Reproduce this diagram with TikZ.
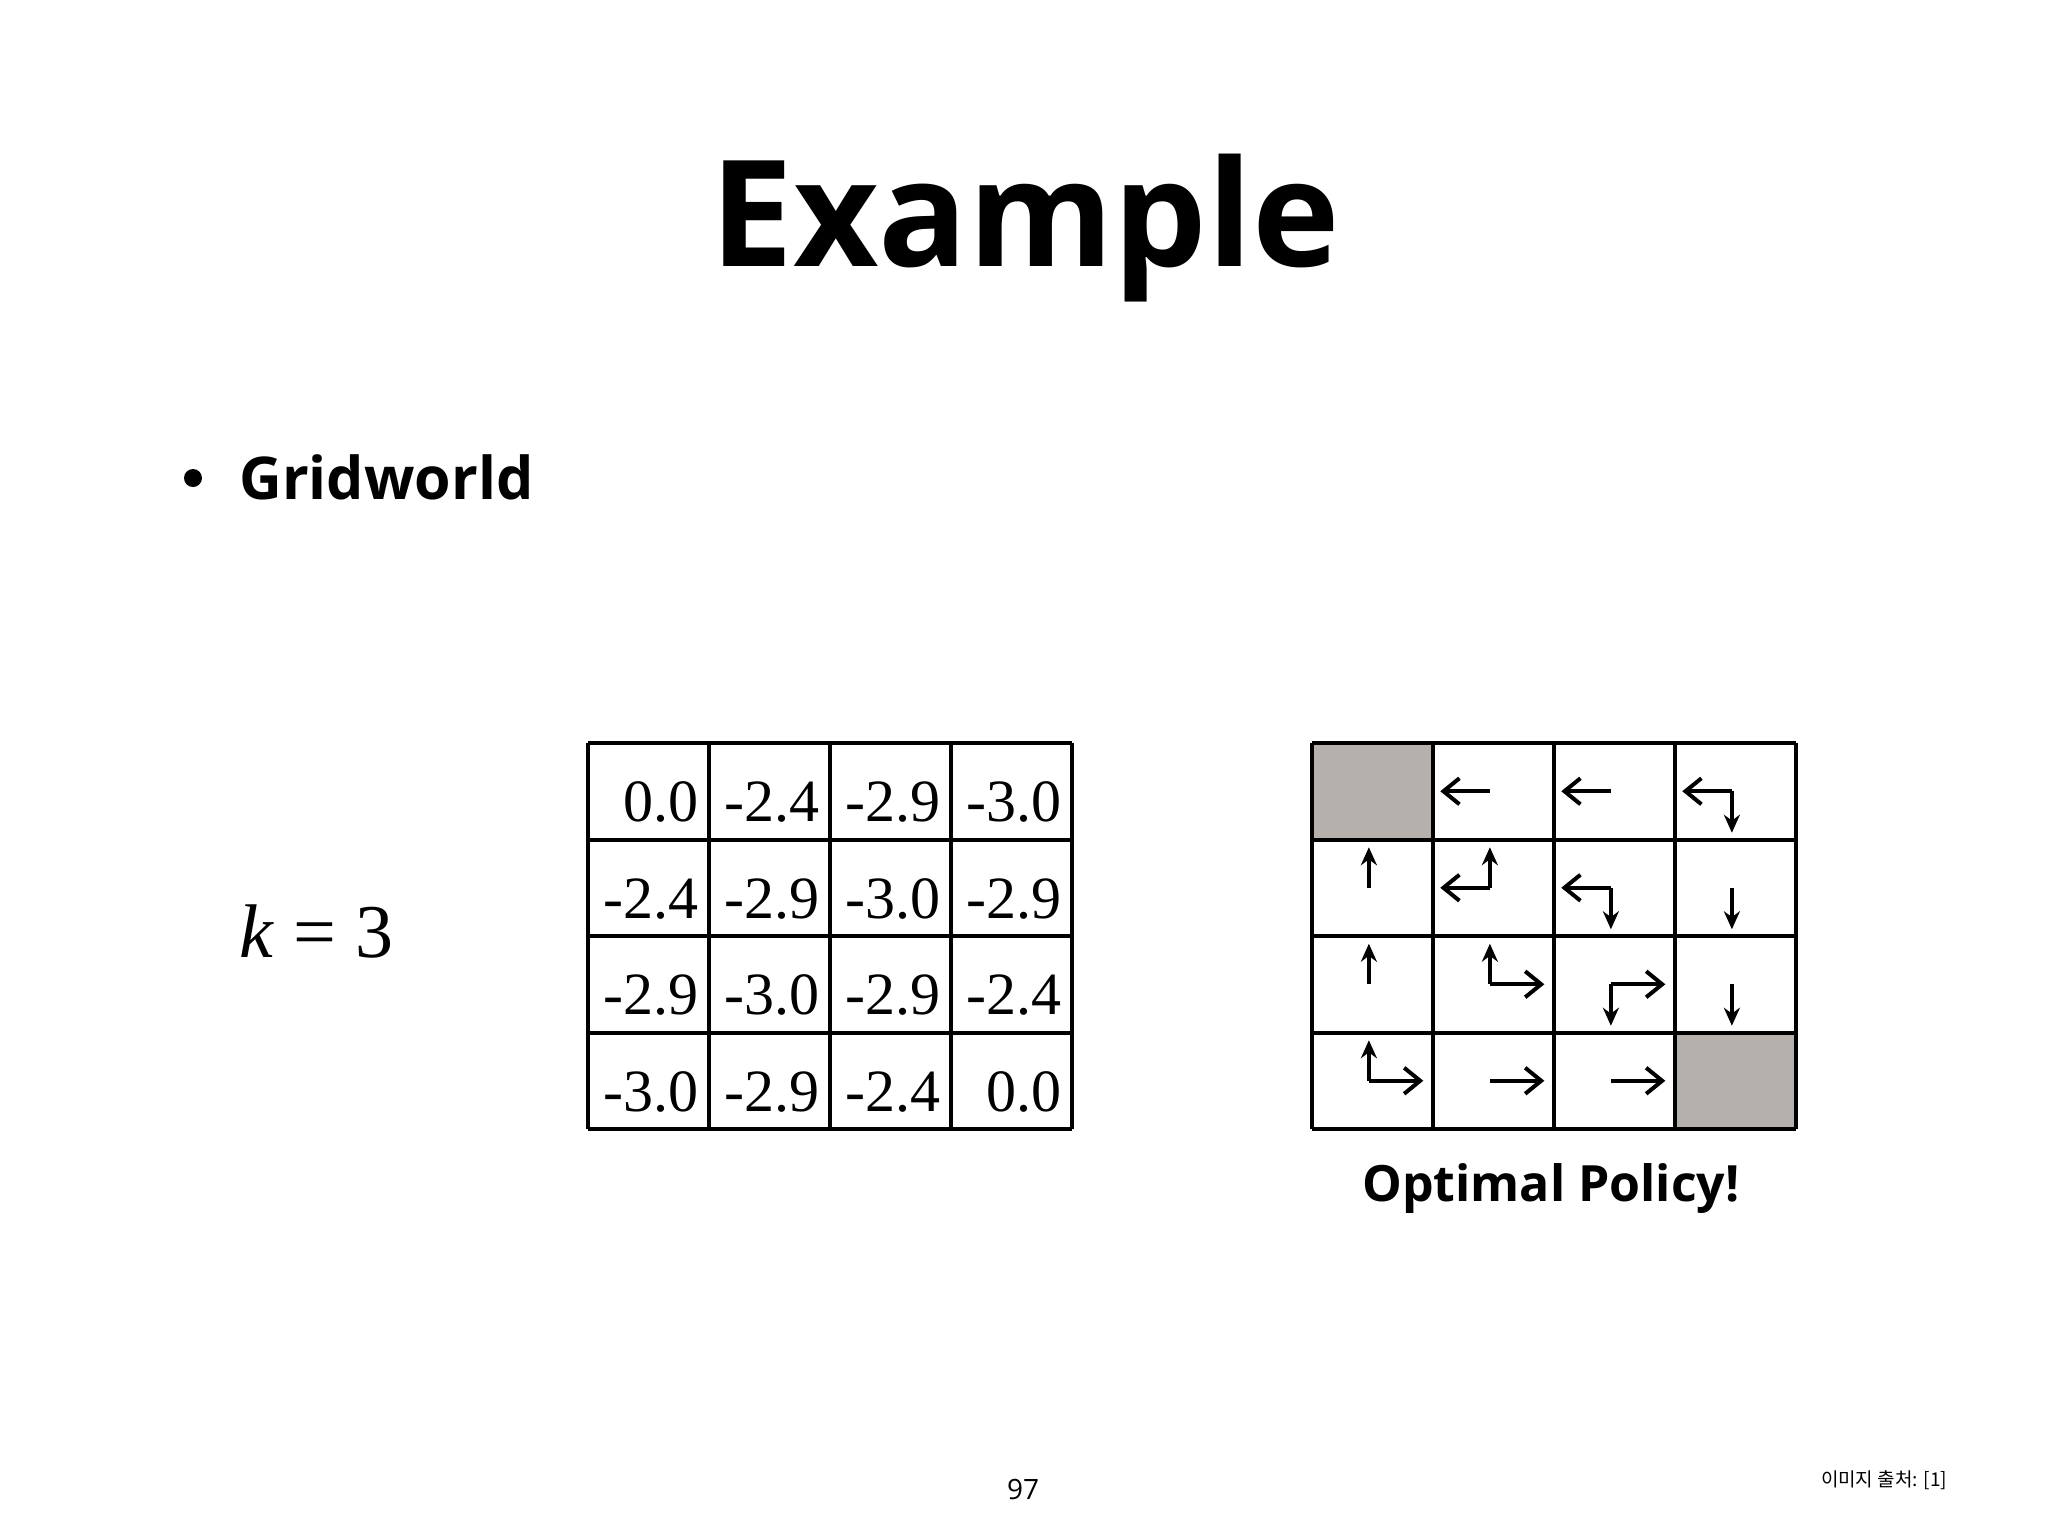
\documentclass[tikz,border=0pt]{standalone}
\usepackage{fontspec}
\setmainfont{Liberation Serif}
\newfontfamily\titlefont{Open Sans}
\newfontfamily\krfont{Noto Sans CJK KR}
\usetikzlibrary{arrows.meta}
\definecolor{cellgray}{HTML}{B5B0AC}
\tikzset{
  gridline/.style={line width=2pt},
  hbarb/.style={line width=2pt,-{Straight Barb[length=8pt,width=13pt,line width=2pt]}},
  vtip/.style={line width=2pt,-{Stealth[length=9pt,width=8pt]}},
  val/.style={anchor=base east,inner sep=0pt,font=\fontsize{30}{30}\selectfont}
}
\newcommand{\arL}{\draw[hbarb] (\px,\py) -- (\xo+0.06*121,\py);}
\newcommand{\arR}{\draw[hbarb] (\px,\py) -- (\xo+0.92*121,\py);}
\newcommand{\arU}{\draw[vtip] (\px,\py) -- (\px,\yo+0.08*96.5);}
\newcommand{\arD}{\draw[vtip] (\px,\py) -- (\px,\yo+0.93*96.5);}
\newcommand{\polcell}[3]{% col row dirs
  \pgfmathsetmacro{\xo}{1312+(#1-1)*121}
  \pgfmathsetmacro{\yo}{743+(#2-1)*96.5}
  \pgfmathsetmacro{\px}{\xo+0.47*121}
  \pgfmathsetmacro{\py}{\yo+0.5*96.5}
  #3
}
\begin{document}
\begin{tikzpicture}[x=0.5pt,y=-0.5pt]
\useasboundingbox (0,0) rectangle (2048,1536);
\node (title) at (1025,228) {\titlefont\bfseries\fontsize{74}{74}\selectfont Example};
\fill (193,478) circle (9);
\node[anchor=base west,inner sep=0pt] (gw) at (239,499) {\titlefont\bfseries\fontsize{29.5}{29.5}\selectfont Gridworld};
\node[anchor=west,inner sep=0pt] (k) at (239,931) {\fontsize{38}{38}\selectfont\itshape k\/\upshape{} = 3};
% value grid
\fill[white] (588,743) rectangle (1072,1129);
\foreach \i in {0,...,4}{
  \draw[gridline] (588+\i*121,743) -- (588+\i*121,1129);
  \draw[gridline] (588,743+\i*96.5) -- (1072,743+\i*96.5);
}
\foreach \r/\row in {1/{0.0,-2.4,-2.9,-3.0},2/{-2.4,-2.9,-3.0,-2.9},3/{-2.9,-3.0,-2.9,-2.4},4/{-3.0,-2.9,-2.4,0.0}}{
  \foreach \v [count=\c] in \row {
    \node[val] at (588+\c*121-10,743+\r*96.5-18) {\v};
  }
}
% policy grid
\fill[cellgray] (1312,743) rectangle (1433,839.5);
\fill[cellgray] (1675,1032.5) rectangle (1796,1129);
\foreach \i in {0,...,4}{
  \draw[gridline] (1312+\i*121,743) -- (1312+\i*121,1129);
  \draw[gridline] (1312,743+\i*96.5) -- (1796,743+\i*96.5);
}
\polcell{2}{1}{\arL}\polcell{3}{1}{\arL}\polcell{4}{1}{\arL\arD}
\polcell{1}{2}{\arU}\polcell{2}{2}{\arL\arU}\polcell{3}{2}{\arL\arD}\polcell{4}{2}{\arD}
\polcell{1}{3}{\arU}\polcell{2}{3}{\arU\arR}\polcell{3}{3}{\arR\arD}\polcell{4}{3}{\arD}
\polcell{1}{4}{\arU\arR}\polcell{2}{4}{\arR}\polcell{3}{4}{\arR}
\node (opt) at (1551,1188) {\titlefont\bfseries\fontsize{25}{25}\selectfont Optimal Policy!};
\node (pg) at (1023,1489) {\titlefont\fontsize{14}{14}\selectfont 97};
\node (src) at (1884,1480) {\krfont\fontsize{9.5}{9.5}\selectfont 이미지 출처: [1]};
\end{tikzpicture}
\end{document}
